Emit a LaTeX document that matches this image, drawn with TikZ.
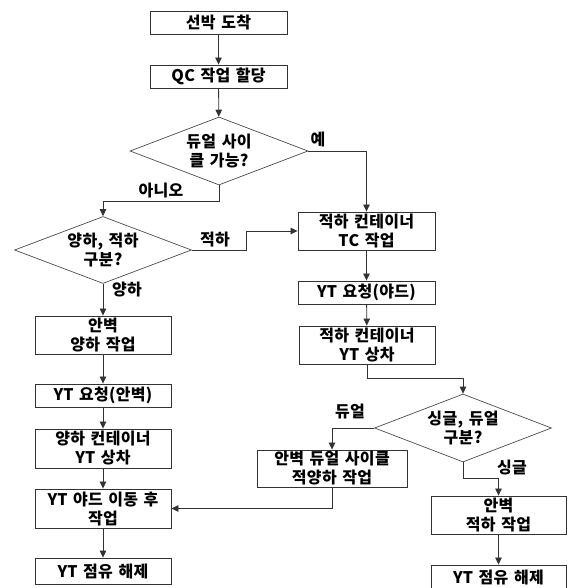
\documentclass[tikz,border=0pt]{standalone}
\usepackage{fontspec}
\setmainfont{Noto Sans CJK KR}[LetterSpace=2,WordSpace=1.4]
\usetikzlibrary{shapes.geometric,arrows.meta}
\begin{document}
\begin{tikzpicture}[x=1pt,y=-1pt,
  every node/.style={font=\fontsize{16}{19}\selectfont\bfseries},
  box/.style={draw=black!80,line width=0.9pt,rectangle,inner sep=0pt,align=center},
  dia/.style={draw=black!70,line width=0.7pt,diamond,aspect=2.6,inner sep=0pt,align=center},
  arr/.style={draw=black!80,line width=0.8pt,-{Triangle[length=7pt,width=6.5pt]}},
  lab/.style={inner sep=0pt}]
\useasboundingbox (0,0) rectangle (570,588);
% left/center column
\node[box,minimum width=137pt,minimum height=23pt] (b1) at (218.5,22.5) {선박 도착};
\node[box,minimum width=137pt,minimum height=23pt] (b2) at (218.5,76.5) {QC 작업 할당};
\node[dia,minimum width=178pt,minimum height=68pt] (d1) at (219,151) {듀얼 사이\\클 가능?};
\node[dia,minimum width=177pt,minimum height=67pt] (d2) at (103,250) {양하, 적하\\구분?};
\node[box,minimum width=137pt,minimum height=38pt] (b3) at (366.5,231) {적하 컨테이너\\TC 작업};
\node[box,minimum width=137pt,minimum height=23pt] (b4) at (366.5,292.5) {YT 요청(야드)};
\node[box,minimum width=136pt,minimum height=38pt] (b5) at (367,345) {적하 컨테이너\\YT 상차};
\node[dia,minimum width=177pt,minimum height=68pt] (d3) at (463,428) {싱글, 듀얼\\구분?};
\node[box,minimum width=136pt,minimum height=38pt] (l1) at (103,335) {안벽\\양하 작업};
\node[box,minimum width=136pt,minimum height=23pt] (l2) at (103,395.5) {YT 요청(안벽)};
\node[box,minimum width=136pt,minimum height=39pt] (l3) at (103,448.5) {양하 컨테이너\\YT 상차};
\node[box,minimum width=136pt,minimum height=39pt] (l4) at (103,508.5) {YT 야드 이동 후\\작업};
\node[box,minimum width=136pt,minimum height=26pt] (l5) at (103,571) {YT 점유 해제};
\node[box,minimum width=150pt,minimum height=37pt] (m1) at (332,468.5) {안벽 듀얼 사이클\\적양하 작업};
\node[box,minimum width=135pt,minimum height=38pt] (r1) at (498.5,515) {안벽\\적하 작업};
\node[box,minimum width=135pt,minimum height=24pt] (r2) at (498.5,577) {YT 점유 해제};
% helper coordinates
\coordinate (c1) at (219,201);
\coordinate (c2) at (246,250);
\coordinate (c3) at (367,378);
\coordinate (c4) at (332,508.5);
\coordinate (c5) at (463,478);
% connectors
\draw[arr] (b1) -- (b2);
\draw[arr] (b2) -- (d1);
\draw[arr] (d1.east) -| (b3.north);
\draw[arr] (d1.south) -- (c1) -| (d2.north);
\draw[arr] (d2.east) -- (c2) |- (b3.west);
\draw[arr] (d2.south) -- (l1.north);
\draw[arr] (l1) -- (l2);
\draw[arr] (l2) -- (l3);
\draw[arr] (l3) -- (l4);
\draw[arr] (l4) -- (l5);
\draw[arr] (b3) -- (b4);
\draw[arr] (b4) -- (b5);
\draw[arr] (b5.south) -- (c3) -| (d3.north);
\draw[arr] (d3.west) -| (m1.north);
\draw[arr] (m1.south) -- (c4) -- (l4.east);
\draw[arr] (d3.south) -- (c5) -| (r1.north);
\draw[arr] (r1) -- (r2);
% labels
\node[lab] (t1) at (318,140) {예};
\node[lab] (t2) at (161,191) {아니오};
\node[lab] (t3) at (215,240) {적하};
\node[lab] (t4) at (127,290) {양하};
\node[lab] (t5) at (350,412) {듀얼};
\node[lab] (t6) at (512,467) {싱글};
\end{tikzpicture}
\end{document}
